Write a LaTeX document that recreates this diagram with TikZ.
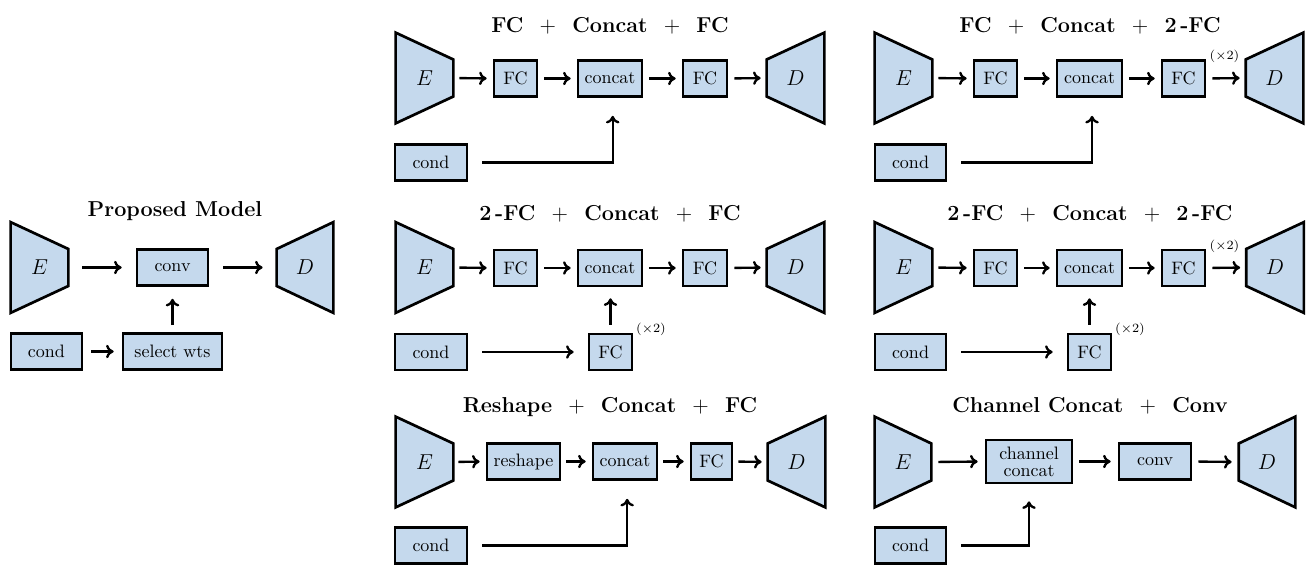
\documentclass[tikz,border=0pt]{standalone}
\usetikzlibrary{calc,backgrounds,arrows.meta}
\definecolor{boxblue}{RGB}{197,217,237}
\pgfdeclarelayer{back0}
\pgfdeclarelayer{background}
\pgfsetlayers{back0,background,main}
\tikzset{
  blk/.style={draw, line width=1.5pt, fill=boxblue, inner sep=0pt, minimum height=36*0.5556pt, minimum width=#1*0.5556pt},
  blk/.default=43,
  trapnode/.style={inner sep=0pt, minimum width=57*0.5556pt, minimum height=90*0.5556pt, font=\large},
  trap/.style={draw, line width=1.5pt, fill=boxblue, line join=miter},
  arr/.style={-{To[length=4.2pt,width=7.5pt]}, line width=1.3pt},
  gap/.style 2 args={shorten <=#1*0.5556pt, shorten >=#2*0.5556pt},
  ttl/.style={font=\large\bfseries, anchor=base},
  xtwo/.style={font=\scriptsize},
}
\newcommand\encE[1]{\draw[trap] (#1.north west) -- ($(#1.east)+(0,-18.5)$) -- ($(#1.east)+(0,18.5)$) -- (#1.south west) -- cycle;}
\newcommand\decD[1]{\draw[trap] (#1.north east) -- ($(#1.west)+(0,-18.5)$) -- ($(#1.west)+(0,18.5)$) -- (#1.south east) -- cycle;}
\begin{document}
\begin{tikzpicture}[x=0.5556pt, y=-0.5556pt]
\begin{pgfonlayer}{back0}
  \path[use as bounding box, fill=white] (0,0) rectangle (1306,562);
\end{pgfonlayer}

% ---------------- Proposed model ----------------
\node[ttl] (t0) at (175,216) {Proposed Model};
\node[trapnode] (e0) at (39.5,267.5) {$E$};
\node[trapnode, minimum width=56*0.5556pt] (d0) at (305,267.5) {$D$};
\node[blk=71] (conv0) at (172.5,267.5) {conv};
\node[blk=71] (cond0) at (46.5,351.5) {cond};
\node[blk=99] (sel0) at (172.5,351.5) {select wts};
\draw[arr, gap={14}{14}] (e0.east) -- (conv0.west);
\draw[arr, gap={14}{14}] (conv0.east) -- (d0.west);
\draw[arr, gap={8}{8}] (cond0.east) -- (sel0.west);
\draw[arr, gap={7}{12}] (sel0.north) -- (conv0.south);

% ---------------- Col 2 top ----------------
\node[ttl] (t1) at (610,32) {FC\ \ $+$\ \ Concat\ \ $+$\ \ FC};
\node[trapnode] (e1) at (424.5,78) {$E$};
\node[trapnode] (d1) at (795.5,78) {$D$};
\node[blk=43] (fa1) at (515.5,78.5) {FC};
\node[blk=64] (cat1) at (610,78.5) {concat};
\node[blk=44] (fb1) at (705,78.5) {FC};
\node[blk=72] (cond1) at (431,162.5) {cond};
\draw[arr, gap={6}{6}] (e1.east) -- (fa1.west);
\draw[arr, gap={6}{6}] (fa1.east) -- (cat1.west);
\draw[arr, gap={6}{6}] (cat1.east) -- (fb1.west);
\draw[arr, gap={6}{6}] (fb1.east) -- (d1.west);
\draw[arr, gap={14}{18}] (cond1.east) -| ([xshift=1.5pt]cat1.south);

% ---------------- Col 2 middle ----------------
\node[ttl] (t2) at (610,220) {2\,-FC\ \ $+$\ \ Concat\ \ $+$\ \ FC};
\node[trapnode] (e2) at (424.5,267.5) {$E$};
\node[trapnode] (d2) at (795.5,267.5) {$D$};
\node[blk=43] (fa2) at (515.5,268) {FC};
\node[blk=64] (cat2) at (610,268) {concat};
\node[blk=44] (fb2) at (705,268) {FC};
\node[blk=72] (cond2) at (431,352) {cond};
\node[blk=43] (fc2) at (610.5,352) {FC};
\node[xtwo] (x2) at (651,329) {$(\times 2)$};
\draw[arr, gap={6}{6}] (e2.east) -- (fa2.west);
\draw[arr, gap={6}{6}] (fa2.east) -- (cat2.west);
\draw[arr, gap={6}{6}] (cat2.east) -- (fb2.west);
\draw[arr, gap={6}{6}] (fb2.east) -- (d2.west);
\draw[arr, gap={14}{14}] (cond2.east) -- (fc2.west);
\draw[arr, gap={8}{11}] (fc2.north) -- (fc2.north |- cat2.south);

% ---------------- Col 2 bottom ----------------
\node[ttl] (t3) at (610,412) {Reshape\ \ $+$\ \ Concat\ \ $+$\ \ FC};
\node[trapnode] (e3) at (424.5,462) {$E$};
\node[trapnode] (d3) at (796.5,462) {$D$};
\node[blk=73] (rs3) at (523.5,461.5) {reshape};
\node[blk=64] (cat3) at (625,461.5) {concat};
\node[blk=41] (fb3) at (711.5,461.5) {FC};
\node[blk=72] (cond3) at (431,545.5) {cond};
\draw[arr, gap={5}{6}] (e3.east) -- (rs3.west);
\draw[arr, gap={5}{6}] (rs3.east) -- (cat3.west);
\draw[arr, gap={5}{6}] (cat3.east) -- (fb3.west);
\draw[arr, gap={5}{6}] (fb3.east) -- (d3.west);
\draw[arr, gap={14}{18}] (cond3.east) -| ([xshift=1.2pt]cat3.south);

% ---------------- Col 3 top ----------------
\node[ttl] (t4) at (1090,32) {FC\ \ $+$\ \ Concat\ \ $+$\ \ 2\,-FC};
\node[trapnode] (e4) at (903.5,78) {$E$};
\node[trapnode] (d4) at (1274.5,78) {$D$};
\node[blk=43] (fa4) at (995.5,78.5) {FC};
\node[blk=65] (cat4) at (1089.5,78.5) {concat};
\node[blk=43] (fb4) at (1183.5,78.5) {FC};
\node[blk=71] (cond4) at (910.5,162.5) {cond};
\node[xtwo] (x4) at (1224.5,56) {$(\times 2)$};
\draw[arr, gap={6}{6}] (e4.east) -- (fa4.west);
\draw[arr, gap={6}{6}] (fa4.east) -- (cat4.west);
\draw[arr, gap={6}{6}] (cat4.east) -- (fb4.west);
\draw[arr, gap={6}{6}] (fb4.east) -- (d4.west);
\draw[arr, gap={14}{18}] (cond4.east) -| ([xshift=1.4pt]cat4.south);

% ---------------- Col 3 middle ----------------
\node[ttl] (t5) at (1090,220) {2\,-FC\ \ $+$\ \ Concat\ \ $+$\ \ 2\,-FC};
\node[trapnode] (e5) at (903.5,267.5) {$E$};
\node[trapnode] (d5) at (1275,267.5) {$D$};
\node[blk=43] (fa5) at (995.5,268) {FC};
\node[blk=65] (cat5) at (1089.5,268) {concat};
\node[blk=43] (fb5) at (1183.5,268) {FC};
\node[blk=71] (cond5) at (910.5,352) {cond};
\node[blk=43] (fc5) at (1089.5,352) {FC};
\node[xtwo] (x5a) at (1224.5,246) {$(\times 2)$};
\node[xtwo] (x5b) at (1130,329) {$(\times 2)$};
\draw[arr, gap={6}{6}] (e5.east) -- (fa5.west);
\draw[arr, gap={6}{6}] (fa5.east) -- (cat5.west);
\draw[arr, gap={6}{6}] (cat5.east) -- (fb5.west);
\draw[arr, gap={6}{6}] (fb5.east) -- (d5.west);
\draw[arr, gap={14}{14}] (cond5.east) -- (fc5.west);
\draw[arr, gap={8}{11}] (fc5.north) -- (cat5.south);

% ---------------- Col 3 bottom ----------------
\node[ttl] (t6) at (1090,412) {Channel Concat\ \ $+$\ \ Conv};
\node[trapnode, minimum width=56*0.5556pt] (e6) at (903,462) {$E$};
\node[trapnode, minimum width=56*0.5556pt] (d6) at (1267,462) {$D$};
\node[blk=86, minimum height=43*0.5556pt, align=center] (cc6) at (1029,461.5) {channel\\[-2.6pt]concat};
\node[blk=72] (conv6) at (1155,461.5) {conv};
\node[blk=71] (cond6) at (910.5,545.5) {cond};
\draw[arr, gap={7}{7}] (e6.east) -- (cc6.west);
\draw[arr, gap={6}{7}] (cc6.east) -- (conv6.west);
\draw[arr, gap={6}{7}] (conv6.east) -- (d6.west);
\draw[arr, gap={14}{17}] (cond6.east) -| (cc6.south);

% ---------------- trapezoids ----------------
\begin{pgfonlayer}{background}
  \encE{e0}\decD{d0}
  \encE{e1}\decD{d1}
  \encE{e2}\decD{d2}
  \encE{e3}\decD{d3}
  \encE{e4}\decD{d4}
  \encE{e5}\decD{d5}
  \encE{e6}\decD{d6}
\end{pgfonlayer}
\end{tikzpicture}
\end{document}
